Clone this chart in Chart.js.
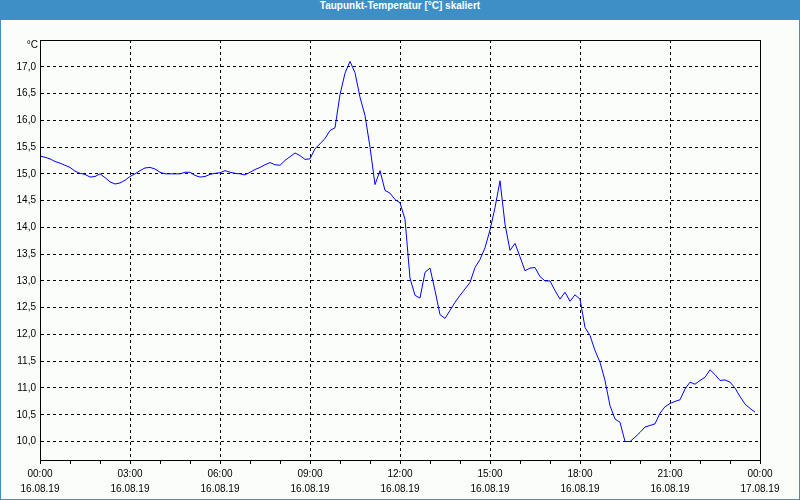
<!DOCTYPE html>
<html lang="de">
<head>
    <meta charset="UTF-8">
    <title>Taupunkt-Temperatur [°C] skaliert</title>
    <script src="https://cdn.jsdelivr.net/npm/chart.js"></script>
    <style>
        body { margin: 0; }
        #frame {
            position: relative; width: 800px; height: 500px; box-sizing: border-box;
            border: 1px solid #3d8fc6; background: #fbfdfb;
        }
        #frame canvas { position: absolute; left: -1px; top: -1px; }
        #title {
            position: absolute; left: -1px; top: -1px; width: 800px; height: 20px;
            background: #3d8fc6; color: #fff; text-align: center; line-height: 19px;
            font: bold 10px "Liberation Sans", Arial, sans-serif;
        }
    </style>
</head>
<body>
<div id="frame">
    <canvas id="dewChart" width="800" height="500"></canvas>
    <div id="title">Taupunkt-Temperatur [°C] skaliert</div>
</div>

<script>
    // one reading every 10 minutes, starting 16.08.19 00:00
    const stepMinutes = 10;
    const dewPoint = [
        15.33, 15.31, 15.28, 15.23, 15.20, 15.16, 15.12, 15.05, 15.01, 14.99,
        14.94, 14.95, 15.00, 14.93, 14.85, 14.81, 14.83, 14.88, 14.95, 15.00,
        15.06, 15.11, 15.12, 15.09, 15.03, 15.00, 15.00, 15.00, 15.00, 15.03,
        15.03, 14.97, 14.94, 14.95, 14.99, 15.01, 15.02, 15.06, 15.03, 15.01,
        15.00, 14.98, 15.03, 15.08, 15.12, 15.17, 15.21, 15.17, 15.16, 15.25,
        15.32, 15.39, 15.34, 15.27, 15.28, 15.47, 15.56, 15.66, 15.81, 15.86,
        16.48, 16.88, 17.10, 16.89, 16.43, 16.09, 15.50, 14.80, 15.06, 14.69,
        14.64, 14.52, 14.46, 14.15, 13.05, 12.73, 12.68, 13.16, 13.24, 12.82,
        12.37, 12.30, 12.45, 12.60, 12.73, 12.85, 12.97, 13.25, 13.40, 13.62,
        13.95, 14.37, 14.87, 14.06, 13.57, 13.70, 13.45, 13.19, 13.24, 13.25,
        13.08, 13.00, 13.00, 12.82, 12.66, 12.79, 12.62, 12.74, 12.66, 12.13,
        11.98, 11.70, 11.48, 11.14, 10.67, 10.42, 10.36, 10.00, 10.00, 10.08,
        10.17, 10.27, 10.30, 10.33, 10.53, 10.65, 10.71, 10.75, 10.78, 10.98,
        11.11, 11.07, 11.14, 11.20, 11.34, 11.25, 11.14, 11.15, 11.11, 11.00,
        10.84, 10.70, 10.62, 10.55
    ];

    const hourTicks = [0, 1, 2, 3, 4, 5, 6, 7, 8, 9, 10, 11, 12, 13, 14, 15, 16, 17, 18, 19, 20, 21, 22, 23, 24];
    const labelHours = [0, 3, 6, 9, 12, 15, 18, 21, 24];
    const labelTimes = ['00:00', '03:00', '06:00', '09:00', '12:00', '15:00', '18:00', '21:00', '00:00'];
    const labelDates = ['16.08.19', '16.08.19', '16.08.19', '16.08.19', '16.08.19', '16.08.19', '16.08.19', '16.08.19', '17.08.19'];
    const yTicks = [10.0, 10.5, 11.0, 11.5, 12.0, 12.5, 13.0, 13.5, 14.0, 14.5, 15.0, 15.5, 16.0, 16.5, 17.0];

    const points = dewPoint.map((v, i) => ({ x: i * stepMinutes, y: v }));
    const tickFont = { family: '"Liberation Sans", Arial, sans-serif', size: 10 };

    // closes the plot box and writes the unit above the y axis
    const boxPlugin = {
        id: 'box',
        afterDraw(chart) {
            const { ctx, chartArea: a } = chart;
            ctx.save();
            ctx.strokeStyle = '#000';
            ctx.lineWidth = 1;
            ctx.setLineDash([]);
            ctx.strokeRect(Math.round(a.left) + 0.5, Math.round(a.top) + 0.5,
                Math.round(a.right - a.left), Math.round(a.bottom - a.top));
            ctx.fillStyle = '#000';
            ctx.font = '10px "Liberation Sans", Arial, sans-serif';
            ctx.textAlign = 'right';
            ctx.textBaseline = 'middle';
            ctx.fillText('°C', a.left - 2, a.top + 5);
            ctx.restore();
        }
    };

    new Chart(document.getElementById('dewChart'), {
        type: 'line',
        data: {
            datasets: [{
                data: points,
                borderColor: '#0000ff',
                borderWidth: 1,
                pointRadius: 0,
                tension: 0,
                fill: false
            }]
        },
        options: {
            responsive: false,
            animation: false,
            layout: { padding: { top: 40, right: 40, left: 0, bottom: 0 } },
            plugins: { legend: { display: false }, tooltip: { enabled: false } },
            scales: {
                x: {
                    type: 'linear',
                    min: 0,
                    max: 1440,
                    afterBuildTicks: s => { s.ticks = hourTicks.map(h => ({ value: h * 60 })); },
                    afterFit: s => { s.height = 40; },
                    ticks: {
                        autoSkip: false,
                        maxRotation: 0,
                        padding: 3,
                        color: '#000',
                        font: { ...tickFont, lineHeight: 1.5 },
                        callback: v => {
                            const k = labelHours.indexOf(v / 60);
                            return k < 0 ? '' : [labelTimes[k], labelDates[k]];
                        }
                    },
                    grid: {
                        color: c => (c.tick && labelHours.includes(c.tick.value / 60)) ? '#000' : 'rgba(0,0,0,0)',
                        tickColor: '#000',
                        tickLength: 4,
                        tickBorderDash: [],
                        lineWidth: 1
                    },
                    border: { color: '#000', dash: [3, 3] }
                },
                y: {
                    min: 9.655,
                    max: 17.5,
                    afterBuildTicks: s => { s.ticks = yTicks.map(v => ({ value: v })); },
                    afterFit: s => { s.width = 40; },
                    ticks: {
                        padding: 4,
                        color: '#000',
                        font: tickFont,
                        callback: v => v.toFixed(1).replace('.', ',')
                    },
                    grid: { color: '#000', drawTicks: false, lineWidth: 1 },
                    border: { color: '#000', dash: [3, 3] }
                }
            }
        },
        plugins: [boxPlugin]
    });
</script>
</body>
</html>
